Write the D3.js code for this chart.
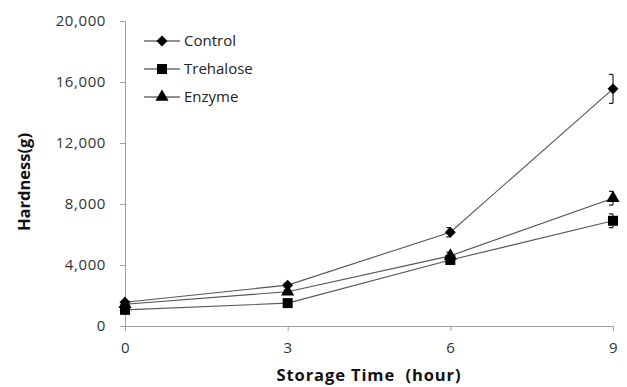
<!DOCTYPE html>
<html><head><meta charset="utf-8">
<script src="https://cdn.jsdelivr.net/npm/d3@7"></script>
<style>body{margin:0;background:#fff}svg{display:block}text{font-family:"Open Sans","Noto Sans",sans-serif}</style>
</head><body>
<svg id="c" width="627" height="387"></svg>
<script>
const times = [0, 3, 6, 9];
const xTicks = [0, 3, 6, 9];
const yTicks = [0, 4000, 8000, 12000, 16000, 20000];
const seriesNames = ["Control", "Trehalose", "Enzyme"];
const control = [1560, 2680, 6150, 15550];
const controlErr = [100, 120, 300, 950];
const trehalose = [1060, 1500, 4330, 6900];
const trehaloseErr = [80, 100, 200, 450];
const enzyme = [1430, 2250, 4600, 8380];
const enzymeErr = [100, 120, 250, 450];

const svg = d3.select("#c");
const x = d3.scaleLinear().domain([0, 9]).range([125, 613]);
const y = d3.scaleLinear().domain([0, 20000]).range([326, 21]);
const axisColor = "#a0a0a0";

const gy = svg.append("g").attr("transform", "translate(125,0)")
  .call(d3.axisLeft(y).tickValues(yTicks).tickSize(5).tickPadding(14).tickFormat(d3.format(",")));
const gx = svg.append("g").attr("transform", "translate(0,326)")
  .call(d3.axisBottom(x).tickValues(xTicks).tickSize(5).tickPadding(11));
[gy, gx].forEach(g => {
  g.select(".domain").attr("stroke", axisColor);
  g.selectAll(".tick line").attr("stroke", axisColor);
  g.selectAll(".tick text").attr("fill", "#333").style("font-size", "15px").style("letter-spacing", "0.6px");
});

svg.append("text").attr("x", 369).attr("y", 381).attr("text-anchor", "middle")
  .style("font-size", "16.5px").style("font-weight", "bold").style("letter-spacing", "0.9px").attr("fill", "#111")
  .attr("xml:space", "preserve").text("Storage Time  (hour)");
svg.append("text").attr("transform", "translate(30,182) rotate(-90)").attr("text-anchor", "middle")
  .style("font-size", "16.5px").style("font-weight", "bold").attr("fill", "#111").text("Hardness(g)");

const diamond = {draw(ctx, size) { const r = Math.sqrt(size / 2); ctx.moveTo(0, -r); ctx.lineTo(r, 0); ctx.lineTo(0, r); ctx.lineTo(-r, 0); ctx.closePath(); }};
const data = [
  {name: seriesNames[0], vals: control, err: controlErr, sym: diamond, size: 60},
  {name: seriesNames[1], vals: trehalose, err: trehaloseErr, sym: d3.symbolSquare, size: 100},
  {name: seriesNames[2], vals: enzyme, err: enzymeErr, sym: d3.symbolTriangle, size: 75}
];
const line = d3.line().x((d, i) => x(times[i])).y(d => y(d));

data.forEach(s => {
  svg.append("path").attr("d", line(s.vals)).attr("fill", "none").attr("stroke", "#555").attr("stroke-width", 1.1);
});
data.forEach(s => {
  s.vals.forEach((v, i) => {
    const cx = x(times[i]);
    const t = y(v + s.err[i]), b = y(v - s.err[i]);
    svg.append("path").attr("d", `M${cx},${t}V${b}M${cx-4},${t}H${cx}M${cx-4},${b}H${cx}`)
      .attr("stroke", "#222").attr("fill", "none").attr("stroke-width", 1.2);
  });
});
data.forEach(s => {
  s.vals.forEach((v, i) => {
    svg.append("path").attr("d", d3.symbol().type(s.sym).size(s.size)())
      .attr("transform", `translate(${x(times[i])},${y(v)})`).attr("fill", "#000");
  });
});

const leg = svg.append("g");
data.forEach((s, i) => {
  const ly = 41 + i * 28;
  leg.append("line").attr("x1", 144).attr("x2", 180).attr("y1", ly).attr("y2", ly).attr("stroke", "#222");
  leg.append("path").attr("d", d3.symbol().type(s.sym).size(s.size)()).attr("transform", `translate(162,${ly})`).attr("fill", "#000");
  leg.append("text").attr("x", 184).attr("y", ly).attr("dy", "0.35em").style("font-size", "15px").attr("fill", "#222").text(s.name);
});
</script>
</body></html>
